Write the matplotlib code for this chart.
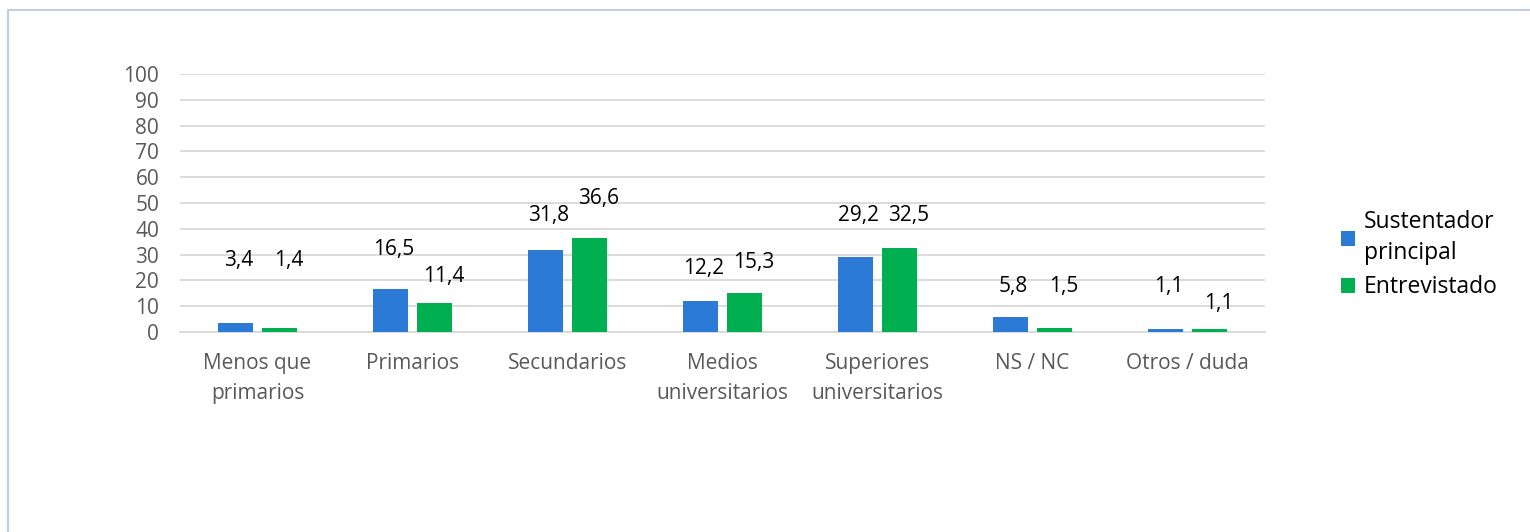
import numpy as np
import matplotlib.pyplot as plt
from matplotlib.patches import Rectangle

# =====================================================
# DATA
# =====================================================

categories = [
    "Menos que\nprimarios",
    "Primarios",
    "Secundarios",
    "Medios\nuniversitarios",
    "Superiores\nuniversitarios",
    "NS / NC",
    "Otros / duda",
]

sustentador = [3.4, 16.5, 31.8, 12.2, 29.2, 5.8, 1.1]
entrevistado = [1.4, 11.4, 36.6, 15.3, 32.5, 1.5, 1.1]

series_names = ["Sustentador\nprincipal", "Entrevistado"]

# label heights as placed in the original chart (data units)
label_y_sust = [27.9, 31.8, 45.3, 24.8, 45.0, 17.8, 17.8]
label_y_entr = [27.9, 21.7, 51.9, 27.1, 45.0, 17.8, 10.9]

# =====================================================
# STYLE
# =====================================================

plt.rcParams["font.family"] = ["Open Sans", "DejaVu Sans"]

blue = "#2b7bd6"
green = "#00b050"
grid_col = "#d9d9d9"
tick_col = "#595959"

# =====================================================
# PLOT
# =====================================================

fig = plt.figure(figsize=(15.3, 5.32), dpi=100)
ax = fig.add_axes([180 / 1530, 1 - 332 / 532, 1085 / 1530, 258 / 532])

# outer frame
fig.patches.append(
    Rectangle(
        (8 / 1530, -0.1),
        1.2,
        1 - 10 / 532 + 0.1,
        transform=fig.transFigure,
        fill=False,
        edgecolor="#c5cddb",
        linewidth=1.5,
    )
)

x = np.arange(len(categories))
width = 0.22
off = 0.142

ax.bar(x - off, sustentador, width, color=blue, label=series_names[0], zorder=3)
ax.bar(x + off, entrevistado, width, color=green, label=series_names[1], zorder=3)

def fmt(v):
    return f"{v:.1f}".replace(".", ",")

for i in range(len(categories)):
    ax.text(x[i] - off + 0.02, label_y_sust[i], fmt(sustentador[i]),
            ha="center", va="center", fontsize=15, color="black")
    ax.text(x[i] + off + 0.06, label_y_entr[i], fmt(entrevistado[i]),
            ha="center", va="center", fontsize=15, color="black")

ax.set_xlim(-0.5, len(categories) - 0.5)
ax.set_ylim(0, 100)
ax.set_yticks(range(0, 101, 10))
ax.yaxis.grid(True, color=grid_col, linewidth=1.3, zorder=0)
ax.set_axisbelow(True)

ax.set_xticks(x)
ax.set_xticklabels(categories, fontsize=15, color=tick_col, linespacing=1.55)
ax.tick_params(axis="y", labelsize=15, labelcolor=tick_col, length=0, pad=15)
ax.tick_params(axis="x", length=0, pad=15)

for s in ["top", "right", "left"]:
    ax.spines[s].set_visible(False)
ax.spines["bottom"].set_color(grid_col)
ax.spines["bottom"].set_linewidth(1.3)

leg = ax.legend(
    loc="center left",
    bbox_to_anchor=(1.070, 0.30),
    frameon=False,
    fontsize=16.5,
    handlelength=0.6,
    handleheight=0.6,
    handletextpad=0.4,
    labelspacing=0.45,
    borderaxespad=0,
    borderpad=0,
)
for t in leg.get_texts():
    t.set_linespacing(1.4)

fig.savefig("out.png", dpi=100)
